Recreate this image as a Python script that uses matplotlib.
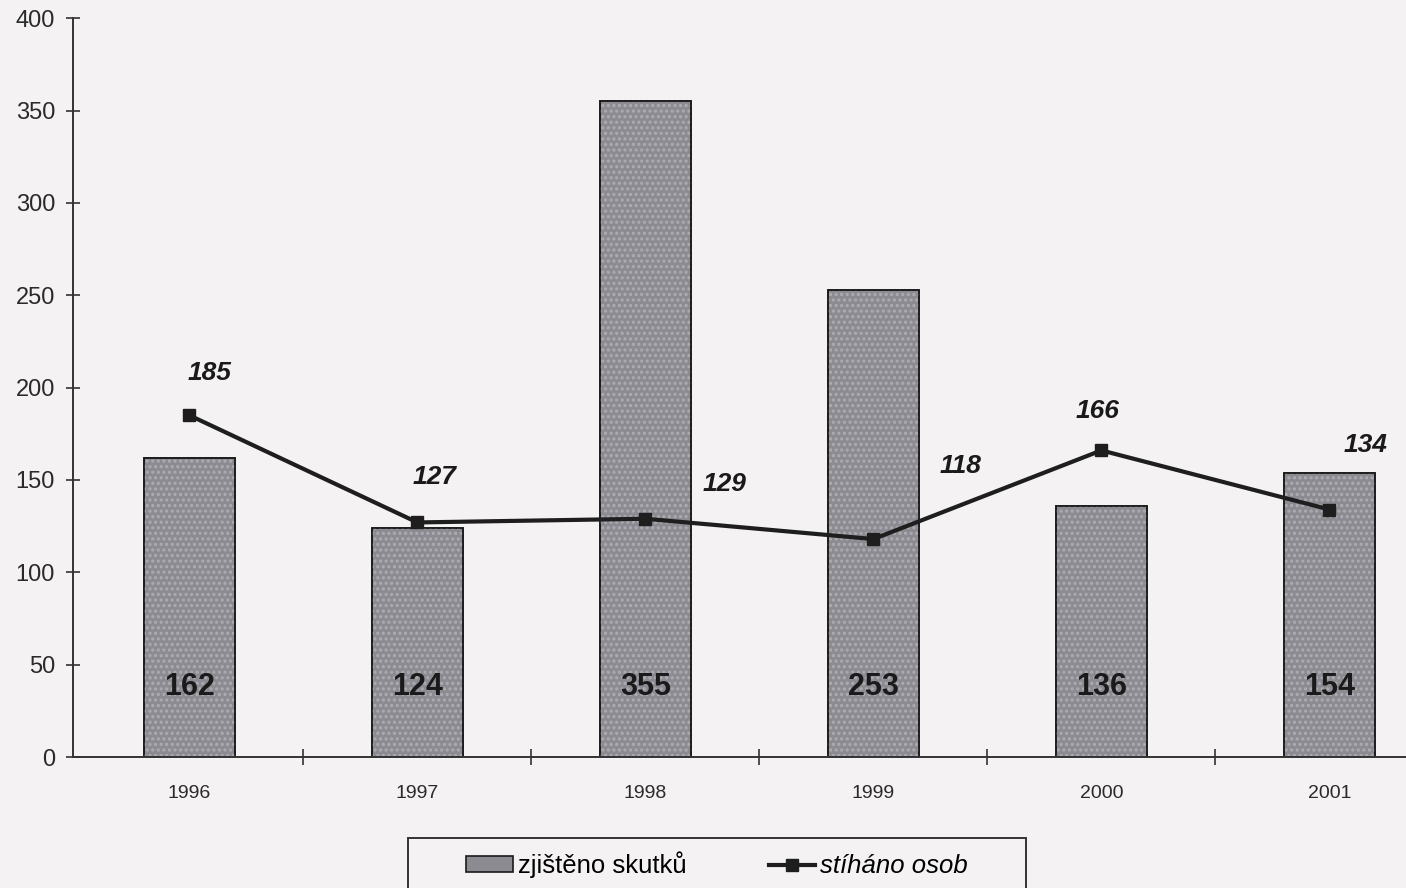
import matplotlib
matplotlib.use("Agg")
import matplotlib.pyplot as plt
from matplotlib.patches import Rectangle
import numpy as np

years = ["1996", "1997", "1998", "1999", "2000", "2001"]
skutky = [162, 124, 355, 253, 136, 154]      # zjištěno skutků (bars)
osoby = [185, 127, 129, 118, 166, 134]       # stíháno osob (line)

# label offsets in pixels for the line values (layout only)
lab_off = [(20, 42), (17, 45), (79, 35), (87, 73), (-4, 39), (36, 65)]

plt.rcParams['font.family'] = ['Liberation Sans', 'DejaVu Sans']
plt.rcParams['hatch.linewidth'] = 1.5

bg = '#f4f2f3'
fig = plt.figure(figsize=(14.06, 8.88), dpi=100, facecolor=bg)
ax = fig.add_axes([0.052, 0.1475, 0.948, 0.832], facecolor=bg)

x = np.arange(len(years))
# grainy fill: grey bar with a lighter dotted hatch on top
bars = ax.bar(x, skutky, width=0.4, color='#8d8b92', edgecolor='#1a1a1a',
              linewidth=1.2, zorder=2, label='zjištěno skutků')
ax.bar(x, skutky, width=0.4, color='none', edgecolor='#aeacb2', hatch='...',
       linewidth=0, zorder=2.1)
ax.bar(x, skutky, width=0.4, color='none', edgecolor='#1a1a1a',
       linewidth=1.2, zorder=2.2)
line, = ax.plot(x, osoby, color='#1e1e1e', lw=3, marker='s', ms=8, zorder=3,
                label='stíháno osob')

for xi, v in zip(x, skutky):
    ax.text(xi, 38, str(v), ha='center', va='center', fontsize=22,
            fontweight='bold', color='#1a1a1a', zorder=4)

for xi, v, (dx, dy) in zip(x, osoby, lab_off):
    ax.annotate(str(v), (xi, v), xytext=(dx, dy), textcoords='offset pixels',
                ha='center', va='center', fontsize=19, fontweight='bold',
                fontstyle='italic', color='#1a1a1a', zorder=4)

ax.set_yticks(range(0, 401, 50))
ax.set_xticks(x)
ax.set_xticklabels(years, fontsize=14, color='#2a2a2a')
ax.set_xticks(np.arange(0.5, 6, 1), minor=True)
ax.set_ylim(0, 400)
ax.set_xlim(-0.51, 5.336)
ax.tick_params(axis='x', which='major', length=0, pad=20)
ax.tick_params(axis='x', which='minor', length=12, direction='inout',
               color='#333333', width=1.2)
ax.tick_params(axis='y', length=10, direction='inout', color='#333333',
               width=1.2, labelsize=17, labelcolor='#2a2a2a', pad=8)

for s in ['top', 'right']:
    ax.spines[s].set_visible(False)
for s in ['left', 'bottom']:
    ax.spines[s].set_color('#333333')
    ax.spines[s].set_linewidth(1.4)

# legend box runs off the bottom edge like in the scan
fig.patches.append(Rectangle((0.290, -0.02), 0.440, 0.0763,
                             transform=fig.transFigure, facecolor=bg,
                             edgecolor='#333333', linewidth=1.4, zorder=1))
leg = fig.legend([bars, line], ['zjištěno skutků', 'stíháno osob'],
                 loc='center', bbox_to_anchor=(0.51, 0.026), ncol=2,
                 fontsize=18.5, frameon=False, handlelength=1.8,
                 handleheight=0.6, handletextpad=0.2, columnspacing=3.2)
leg.set_zorder(2)
leg.get_texts()[1].set_fontstyle('italic')

fig.savefig('out.png', dpi=100, facecolor=bg)
